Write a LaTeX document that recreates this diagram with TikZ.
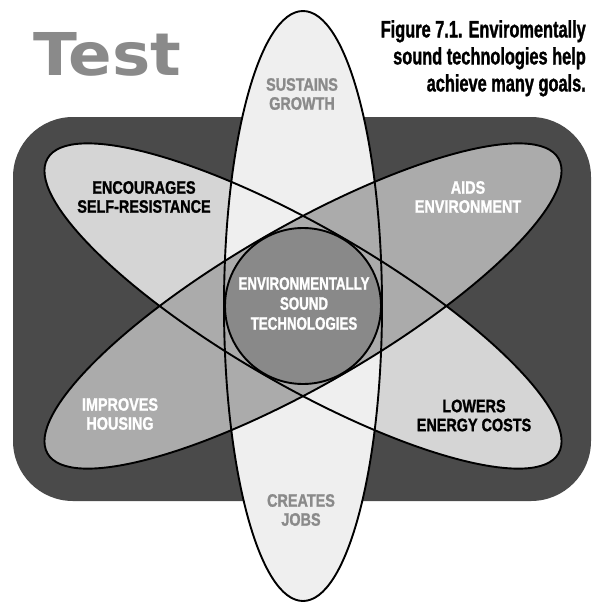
\documentclass[tikz,border=0pt]{standalone}
\usepackage{fontspec}
\newfontfamily\labelfont[UprightFont={* Bold}, FakeStretch=0.8, FakeBold=1.3]{Liberation Sans}
\newfontfamily\corefont[UprightFont={* Bold}, FakeStretch=0.74, FakeBold=1.3]{Liberation Sans}
\newfontfamily\capfont[UprightFont={* Bold}, FakeStretch=0.69, FakeBold=1.2]{Liberation Sans}
\newfontfamily\testfont[UprightFont={* Bold}, FakeStretch=1.09]{DejaVu Sans}
\definecolor{bgdark}{HTML}{4A4A4A}
\definecolor{ellA}{HTML}{D5D5D5}
\definecolor{ellV}{HTML}{EFEFEF}
\definecolor{ellB}{HTML}{ABABAB}
\definecolor{core}{HTML}{898989}
\definecolor{softgray}{HTML}{8A8A8A}
\begin{document}
\begin{tikzpicture}[x=1pt,y=-1pt,
  outline/.style={line width=1.9pt, black},
  lbl/.style={font=\labelfont\fontsize{18}{19}\selectfont, align=center, inner sep=0pt},
  corelbl/.style={font=\corefont\fontsize{18}{20}\selectfont, align=center, inner sep=0pt, text=white}]
\useasboundingbox (0,0) rectangle (600,611);
\fill[bgdark, rounded corners=60pt] (13,117) rectangle (591,501);
\coordinate (C) at (303,306);
% fills
\fill[ellA, rotate around={-30:(C)}] (C) ellipse [x radius=295, y radius=79];
\fill[ellV] (C) ellipse [x radius=79, y radius=295];
\fill[ellB, rotate around={30:(C)}] (C) ellipse [x radius=295, y radius=79];
% outlines
\draw[outline, rotate around={-30:(C)}] (C) ellipse [x radius=295, y radius=79];
\draw[outline] (C) ellipse [x radius=79, y radius=295];
\draw[outline, rotate around={30:(C)}] (C) ellipse [x radius=295, y radius=79];
% core
\draw[outline, fill=core] (C) circle [radius=78];
% texts
\node[font=\testfont\fontsize{59}{59}\selectfont, text=softgray, anchor=base west, inner sep=0pt] (title) at (33,75) {Test};
\node[font=\capfont\fontsize{23.7}{27}\selectfont, align=right, anchor=north east, inner sep=0pt] (caption) at (586,20) {Figure 7.1. Enviromentally\\sound technologies help\\achieve many goals.};
\node[lbl, text=softgray] (growth) at (302,94) {SUSTAINS\\GROWTH};
\node[lbl, text=black] (selfres) at (144,197) {ENCOURAGES\\SELF-RESISTANCE};
\node[lbl, text=white] (environ) at (468,197) {AIDS\\ENVIRONMENT};
\node[corelbl] (tech) at (304,303.5) {ENVIRONMENTALLY\\SOUND\\TECHNOLOGIES};
\node[lbl, text=white] (housing) at (120,414) {IMPROVES\\HOUSING};
\node[lbl, text=black] (energy) at (474,415.5) {LOWERS\\ENERGY COSTS};
\node[lbl, text=softgray] (jobs) at (301,510) {CREATES\\JOBS};
\end{tikzpicture}
\end{document}
